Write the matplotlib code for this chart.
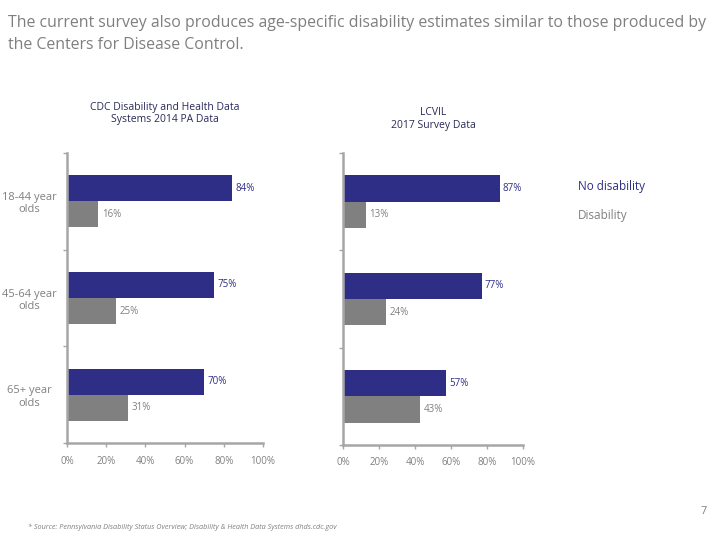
import matplotlib.pyplot as plt

age_groups = ["18-44 year\nolds", "45-64 year\nolds", "65+ year\nolds"]
cdc_no_dis = [84, 75, 70]
cdc_dis = [16, 25, 31]
lcvil_no_dis = [87, 77, 57]
lcvil_dis = [13, 24, 43]
x_ticks = [0, 20, 40, 60, 80, 100]
x_tick_labels = ["0%", "20%", "40%", "60%", "80%", "100%"]

NAVY = "#2E2E86"
GREY = "#808080"
AXIS = "#A6A6A6"
plt.rcParams['font.family'] = ['Open Sans', 'DejaVu Sans']

fig = plt.figure(figsize=(7.2, 5.4), dpi=100)

fig.text(0.011, 0.972, "The current survey also produces age-specific disability estimates similar to those produced by\nthe Centers for Disease Control.",
         color="#7F7F7F", fontsize=11.4, va="top", ha="left", linespacing=1.45)


def draw_panel(ax, no_dis, dis, title, show_cats):
    pos = list(range(len(no_dis)))
    h = 0.27
    ax.barh([p - h / 2 for p in pos], no_dis, height=h, color=NAVY)
    ax.barh([p + h / 2 for p in pos], dis, height=h, color=GREY)
    for p, v in zip(pos, no_dis):
        ax.text(v + 1.8, p - h / 2, f"{v}%", color=NAVY, fontsize=7, va="center")
    for p, v in zip(pos, dis):
        ax.text(v + 1.8, p + h / 2, f"{v}%", color=GREY, fontsize=7, va="center")
    ax.set_xlim(0, 100)
    ax.set_ylim(2.5, -0.5)
    ax.set_xticks(x_ticks)
    ax.set_xticklabels(x_tick_labels, color=GREY, fontsize=7)
    ax.set_yticks([-0.5, 0.5, 1.5, 2.5])
    ax.set_yticklabels([])
    ax.set_yticks(pos, minor=True)
    if show_cats:
        ax.set_yticklabels(age_groups, minor=True, color=GREY, fontsize=8, ha="center", multialignment="center")
        ax.tick_params(axis="y", which="minor", length=0, pad=27)
    else:
        ax.set_yticklabels([], minor=True)
        ax.tick_params(axis="y", which="minor", length=0)
    for s in ["top", "right"]:
        ax.spines[s].set_visible(False)
    for s in ["left", "bottom"]:
        ax.spines[s].set_color(AXIS)
        ax.spines[s].set_linewidth(1.8)
    ax.tick_params(axis="both", which="major", color=AXIS, length=3, width=1)
    ax.tick_params(axis="x", pad=6)
    ax.set_title(title, color="#2A2A5A", fontsize=7.5, pad=18)


ax1 = fig.add_axes([0.0931, 0.1796, 0.2722, 0.537])
draw_panel(ax1, cdc_no_dis, cdc_dis, "CDC Disability and Health Data\nSystems 2014 PA Data", True)
ax1.set_title("CDC Disability and Health Data\nSystems 2014 PA Data", color="#2A2A5A", fontsize=7.5, pad=22)

ax2 = fig.add_axes([0.4764, 0.176, 0.25, 0.541])
draw_panel(ax2, lcvil_no_dis, lcvil_dis, "LCVIL\n2017 Survey Data", False)

fig.text(0.803, 0.655, "No disability", color=NAVY, fontsize=8.5, va="center")
fig.text(0.803, 0.600, "Disability", color=GREY, fontsize=8.5, va="center")

fig.text(0.039, 0.024, "* Source: Pennsylvania Disability Status Overview; Disability & Health Data Systems dhds.cdc.gov",
         color=GREY, fontsize=5.2, style="italic", va="center")
fig.text(0.982, 0.052, "7", color=GREY, fontsize=8, ha="right", va="center")

fig.savefig("out.png", dpi=100)
